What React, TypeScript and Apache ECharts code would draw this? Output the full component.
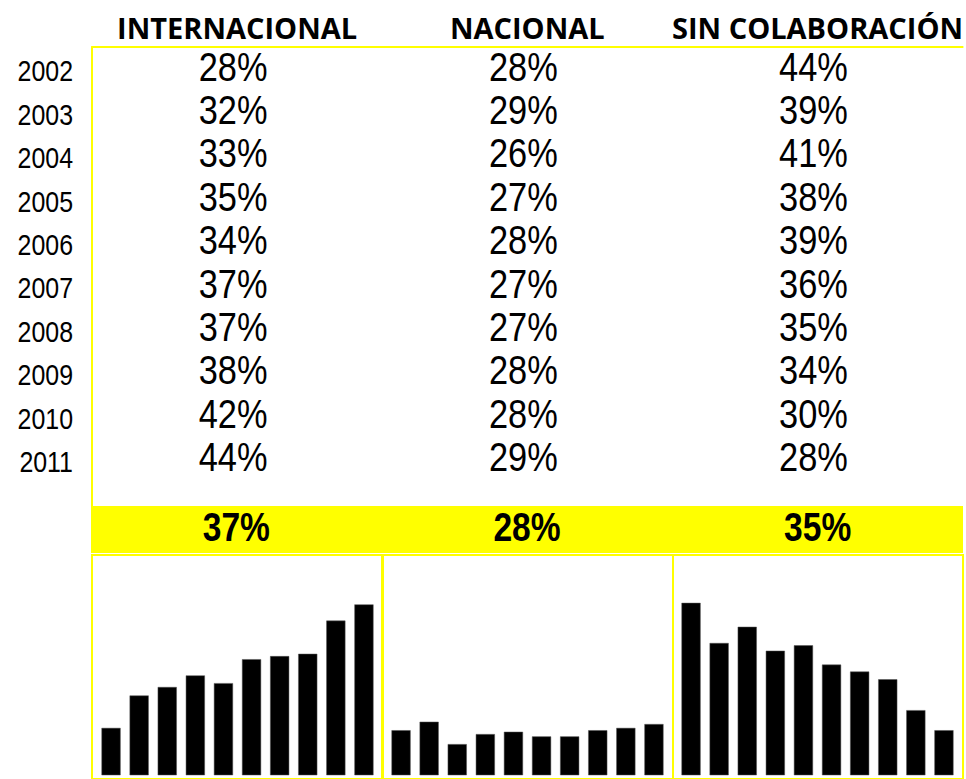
import React, { useEffect, useRef } from "react";
import * as echarts from "echarts";

const years = ["2002", "2003", "2004", "2005", "2006", "2007", "2008", "2009", "2010", "2011"];
const columns = ["INTERNACIONAL", "NACIONAL", "SIN COLABORACIÓN"];
const internacional = [28.1, 32.3, 33.4, 34.9, 33.9, 37.0, 37.4, 37.7, 42.0, 44.1];
const nacional = [27.8, 28.9, 26.0, 27.3, 27.6, 27.0, 27.0, 27.8, 28.1, 28.6];
const sinColaboracion = [44.3, 39.1, 41.2, 38.1, 38.8, 36.3, 35.4, 34.4, 30.4, 27.8];
const promedio = [37, 28, 35];

const YELLOW = "#FFFF00";
const SANS = "'Liberation Sans', Arial, sans-serif";
const HEADER = "'Open Sans', 'Noto Sans', sans-serif";

export default function App() {
  const ref = useRef<HTMLDivElement>(null);

  useEffect(() => {
    if (!ref.current) return;
    const chart = echarts.init(ref.current, null, { renderer: "svg" });

    const seriesList = [internacional, nacional, sinColaboracion];
    const tableData: any[] = [];
    seriesList.forEach((arr, c) => arr.forEach((v, r) => tableData.push([c, r, v])));
    const yearData = years.map((y, r) => [0, r, y]);
    const avgData = promedio.map((v, c) => [c, 0, v]);

    const ROW = 43.4;
    const TABLE_TOP = 47;
    const TABLE_H = 459;

    const boxLefts = [92, 383, 673];
    const boxWidth = 290;
    const barLefts = [97, 387, 677];

    const grids: any[] = [
      { left: 92, top: TABLE_TOP, width: 871, height: TABLE_H },
      {
        left: 91,
        top: 506,
        width: 872,
        height: 47,
        show: true,
        backgroundColor: YELLOW,
        borderWidth: 0,
      },
    ];
    const xAxes: any[] = [
      {
        gridIndex: 0,
        type: "category",
        position: "top",
        data: columns,
        axisLine: { show: true, lineStyle: { color: YELLOW, width: 2 } },
        axisTick: { show: false },
        axisLabel: {
          interval: 0,
          margin: 20,
          verticalAlign: "middle",
          fontFamily: HEADER,
          fontWeight: "bold",
          fontSize: 29,
          color: "#000",
        },
        splitLine: { show: false },
      },
      { gridIndex: 1, type: "category", data: columns, show: false },
    ];
    const yAxes: any[] = [
      {
        gridIndex: 0,
        type: "value",
        inverse: true,
        min: 0,
        max: TABLE_H / ROW,
        axisLine: { show: true, onZero: false, lineStyle: { color: YELLOW, width: 2 } },
        axisTick: { show: false },
        axisLabel: { show: false },
        splitLine: { show: false },
      },
      { gridIndex: 1, type: "category", data: ["promedio"], show: false },
    ];
    const series: any[] = [
      {
        type: "custom",
        xAxisIndex: 0,
        yAxisIndex: 0,
        silent: true,
        data: tableData,
        encode: { x: 0, y: 1 },
        renderItem: (params: any, api: any) => {
          const pt = api.coord([api.value(0), api.value(1) + 0.5]);
          return {
            type: "text",
            x: pt[0] - 4,
            y: pt[1] - 2,
            scaleX: 0.86,
            style: {
              text: Math.round(api.value(2)) + "%",
              fill: "#000",
              fontFamily: SANS,
              fontSize: 40,
              align: "center",
              verticalAlign: "middle",
              opacity: 1,
            },
          };
        },
      },
      {
        type: "custom",
        xAxisIndex: 0,
        yAxisIndex: 0,
        silent: true,
        data: yearData,
        encode: { x: 0, y: 1 },
        renderItem: (params: any, api: any) => {
          const pt = api.coord([0, api.value(1) + 0.5]);
          const colW = api.size([1, 0])[0];
          return {
            type: "text",
            x: pt[0] - colW / 2 - 19,
            y: pt[1] + 3,
            scaleX: 0.86,
            style: {
              text: years[params.dataIndex],
              fill: "#000",
              fontFamily: SANS,
              fontSize: 29,
              align: "right",
              verticalAlign: "middle",
              opacity: 1,
            },
          };
        },
      },
      {
        type: "custom",
        xAxisIndex: 1,
        yAxisIndex: 1,
        silent: true,
        data: avgData,
        encode: { x: 0, y: 1 },
        renderItem: (params: any, api: any) => {
          const pt = api.coord([api.value(0), api.value(1)]);
          return {
            type: "text",
            x: pt[0],
            y: pt[1] - 2,
            scaleX: 0.84,
            style: {
              text: Math.round(api.value(2)) + "%",
              fill: "#000",
              fontFamily: SANS,
              fontWeight: "bold",
              fontSize: 40,
              align: "center",
              verticalAlign: "middle",
              opacity: 1,
            },
          };
        },
      },
    ];

    // bar grids
    seriesList.forEach((arr, i) => {
      const gi = grids.length;
      grids.push({ left: barLefts[i], top: 555, width: 281, height: 220 });
      xAxes.push({ gridIndex: gi, type: "category", data: years, show: false });
      yAxes.push({ gridIndex: gi, type: "value", min: 22, max: 50.5, show: false, splitLine: { show: false } });
      series.push({
        type: "bar",
        xAxisIndex: gi,
        yAxisIndex: gi,
        data: arr,
        barCategoryGap: "32%",
        silent: true,
        itemStyle: { color: "#000", borderColor: "#555", borderWidth: 0.5, opacity: 1 },
      });
    });

    // border boxes
    boxLefts.forEach((l) => {
      const gi = grids.length;
      grids.push({
        left: l,
        top: 555,
        width: boxWidth,
        height: 240,
        show: true,
        borderColor: YELLOW,
        borderWidth: 2,
        backgroundColor: "rgba(0,0,0,0)",
      });
      xAxes.push({ gridIndex: gi, type: "category", data: [], show: false });
      yAxes.push({ gridIndex: gi, type: "value", show: false, splitLine: { show: false } });
    });

    chart.setOption({
      animation: false,
      backgroundColor: "#fff",
      grid: grids,
      xAxis: xAxes,
      yAxis: yAxes,
      series,
    });

    return () => chart.dispose();
  }, []);

  return (
    <div
      ref={ref}
      style={{ position: "fixed", left: 0, top: 0, width: 966, height: 779 }}
    />
  );
}
